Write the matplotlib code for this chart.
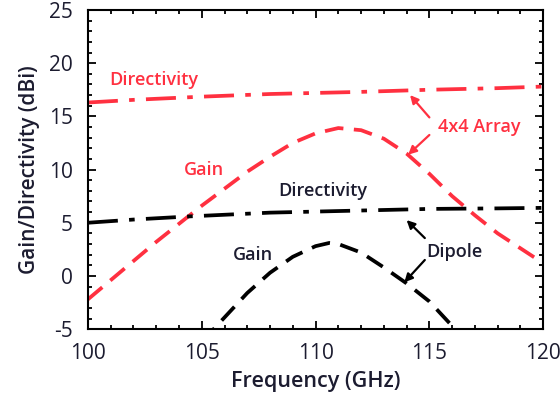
import numpy as np
import matplotlib
matplotlib.use('Agg')
import matplotlib.pyplot as plt
from matplotlib.ticker import MultipleLocator

# 4x4 array
arr_dir_f = [100, 102, 105, 108, 110, 112, 115, 118, 120]
arr_dir = [16.3, 16.55, 16.85, 17.1, 17.2, 17.3, 17.5, 17.65, 17.8]
arr_gain_f = [100, 101, 102, 103, 104, 105, 106, 107, 108, 109, 110, 111, 112, 113, 114, 115, 116, 117, 118, 119, 120]
arr_gain = [-2.2, -0.4, 1.4, 3.2, 4.9, 6.6, 8.2, 9.8, 11.2, 12.5, 13.4, 13.9, 13.7, 12.9, 11.5, 9.6, 7.5, 5.7, 4.0, 2.6, 1.2]

# dipole
dip_dir_f = [100, 102, 104.5, 108, 110, 112, 115, 118, 120]
dip_dir = [5.0, 5.3, 5.6, 5.95, 6.05, 6.15, 6.3, 6.35, 6.4]
dip_gain_f = [105, 106, 107, 108, 109, 110, 110.6, 111, 112, 113, 114, 115, 116, 116.5]
dip_gain = [-6.2, -3.9, -1.6, 0.3, 1.8, 2.8, 3.1, 3.0, 2.2, 0.8, -0.7, -2.4, -4.7, -5.8]

red = '#ff3040'
navy = '#1c1c30'

plt.rcParams['font.family'] = ['Open Sans', 'DejaVu Sans']
plt.rcParams['axes.unicode_minus'] = False
fig = plt.figure(figsize=(5.6, 3.98), dpi=100)
ax = fig.add_axes([0.157, 0.173, 0.813, 0.802])

ax.plot(arr_dir_f, arr_dir, color=red, lw=2.7, dashes=(8, 3, 1.5, 3))
ax.plot(arr_gain_f, arr_gain, color=red, lw=2.7, dashes=(5, 2.8))
ax.plot(dip_dir_f, dip_dir, color='black', lw=2.7, dashes=(8, 3, 1.5, 3))
ax.plot(dip_gain_f, dip_gain, color='black', lw=2.7, dashes=(5, 2.8))

ax.set_xlim(100, 120)
ax.set_ylim(-5, 25)
ax.xaxis.set_major_locator(MultipleLocator(5))
ax.xaxis.set_minor_locator(MultipleLocator(1))
ax.yaxis.set_major_locator(MultipleLocator(5))
ax.yaxis.set_minor_locator(MultipleLocator(1))
ax.tick_params(which='both', direction='in', top=True, right=True, width=1.3,
               labelsize=15, labelcolor=navy)
ax.tick_params(which='major', length=6)
ax.tick_params(axis='x', which='major', pad=10)
ax.tick_params(axis='y', which='major', pad=11)
ax.tick_params(which='minor', length=3)
for s in ax.spines.values():
    s.set_linewidth(1.5)

ax.set_xlabel('Frequency (GHz)', fontsize=15.5, fontweight='semibold', color=navy, labelpad=5)
ax.set_ylabel('Gain/Directivity (dBi)', fontsize=15, fontweight='semibold', color=navy, labelpad=6)

tk = dict(fontsize=13, fontweight='semibold', ha='center', va='center')
ax.text(102.9, 18.4, 'Directivity', color=red, **tk)
ax.text(105.1, 10.0, 'Gain', color=red, **tk)
ax.text(117.2, 14.0, '4x4 Array', color=red, **tk)
ax.text(110.3, 8.0, 'Directivity', color=navy, **tk)
ax.text(107.25, 2.0, 'Gain', color=navy, **tk)
ax.text(116.1, 2.25, 'Dipole', color=navy, **tk)

ap_r = dict(arrowstyle='-|>', color=red, lw=1.6, mutation_scale=12, shrinkA=0, shrinkB=0)
ap_k = dict(arrowstyle='-|>', color='black', lw=1.6, mutation_scale=12, shrinkA=0, shrinkB=0)
ax.annotate('', xy=(114.15, 17.0), xytext=(115.0, 14.9), arrowprops=ap_r)
ax.annotate('', xy=(114.07, 11.4), xytext=(115.0, 13.25), arrowprops=ap_r)
ax.annotate('', xy=(114.0, 5.25), xytext=(114.8, 3.56), arrowprops=ap_k)
ax.annotate('', xy=(113.9, -0.6), xytext=(114.8, 1.5), arrowprops=ap_k)

fig.savefig('out.png', dpi=100)
